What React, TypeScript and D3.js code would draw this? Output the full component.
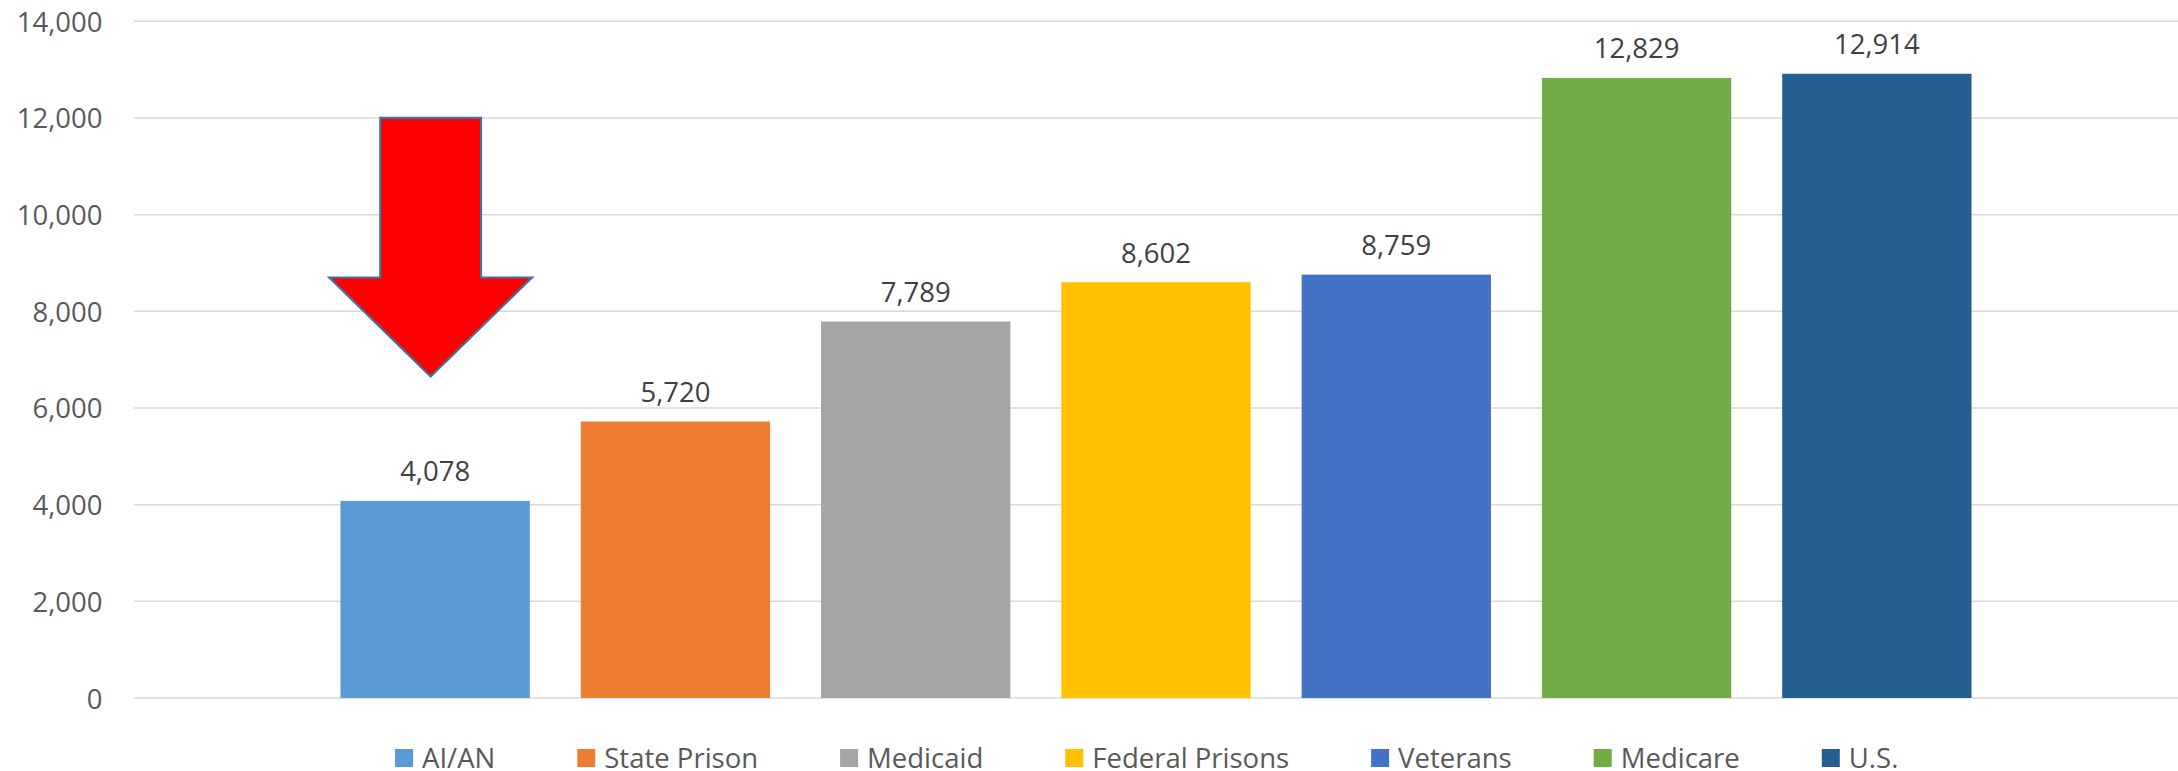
import React, { useEffect, useRef } from "react";
import * as d3 from "d3";

const categories = ["AI/AN", "State Prison", "Medicaid", "Federal Prisons", "Veterans", "Medicare", "U.S."];
const values = [4078, 5720, 7789, 8602, 8759, 12829, 12914];
const colors = ["#5B9BD5", "#ED7D31", "#A5A5A5", "#FFC000", "#4472C4", "#70AD47", "#255E91"];
const yTicks = [0, 2000, 4000, 6000, 8000, 10000, 12000, 14000];
// annotation arrow (data units) pointing at the AI/AN bar
const arrowTarget = "AI/AN";
const arrowTop = 12000;
const arrowHeadBase = 8700;
const arrowTip = 6650;

const W = 2178;
const H = 771;
const FONT = "'Open Sans', 'Noto Sans', sans-serif";

export default function App() {
  const ref = useRef<SVGSVGElement | null>(null);

  useEffect(() => {
    const svg = d3.select(ref.current);
    svg.selectAll("*").remove();

    const y = d3.scaleLinear().domain([0, 14000]).range([698, 21.3]);
    const x = d3
      .scaleBand<string>()
      .domain(categories)
      .range([315, 1997])
      .paddingInner(0.212)
      .paddingOuter(0.106);
    const gridLeft = 134;
    const gridRight = W;

    // gridlines
    svg
      .append("g")
      .selectAll("line")
      .data(yTicks)
      .join("line")
      .attr("x1", gridLeft)
      .attr("x2", gridRight)
      .attr("y1", (d) => y(d))
      .attr("y2", (d) => y(d))
      .attr("stroke", "#D9D9D9")
      .attr("stroke-width", 1.5);

    // y tick labels
    svg
      .append("g")
      .selectAll("text")
      .data(yTicks)
      .join("text")
      .attr("x", 102.5)
      .attr("y", (d) => y(d))
      .attr("text-anchor", "end")
      .attr("dominant-baseline", "central")
      .attr("font-family", FONT)
      .attr("font-size", 27.5)
      .attr("fill", "#595959")
      .text((d) => d3.format(",")(d));

    // bars
    svg
      .append("g")
      .selectAll("rect")
      .data(categories)
      .join("rect")
      .attr("x", (d) => x(d)!)
      .attr("width", x.bandwidth())
      .attr("y", (d, i) => y(values[i]))
      .attr("height", (d, i) => y(0) - y(values[i]))
      .attr("fill", (d, i) => colors[i]);

    // value labels
    svg
      .append("g")
      .selectAll("text")
      .data(categories)
      .join("text")
      .attr("x", (d) => x(d)! + x.bandwidth() / 2)
      .attr("y", (d, i) => y(values[i]) - 19.5)
      .attr("text-anchor", "middle")
      .attr("font-family", FONT)
      .attr("font-size", 27.5)
      .attr("fill", "#404040")
      .text((d, i) => d3.format(",")(values[i]));

    // arrow annotation
    const bw = x.bandwidth();
    const cx = x(arrowTarget)! + bw / 2 - 4.5;
    const sh = bw * 0.266;
    const hh = bw * 0.535;
    const pts: [number, number][] = [
      [cx - sh, y(arrowTop)],
      [cx + sh, y(arrowTop)],
      [cx + sh, y(arrowHeadBase)],
      [cx + hh, y(arrowHeadBase)],
      [cx, y(arrowTip)],
      [cx - hh, y(arrowHeadBase)],
      [cx - sh, y(arrowHeadBase)],
    ];
    svg
      .append("path")
      .attr("d", d3.line()(pts)! + "Z")
      .attr("fill", "#FF0000")
      .attr("stroke", "#41719C")
      .attr("stroke-width", 2.2)
      .attr("stroke-linejoin", "miter");

    // legend
    const lg = svg.append("g");
    const items = categories.map((c, i) => {
      const g = lg.append("g");
      g.append("rect").attr("width", 18).attr("height", 18).attr("y", 749).attr("fill", colors[i]);
      const t = g
        .append("text")
        .attr("x", 27)
        .attr("y", 757.5)
        .attr("dominant-baseline", "central")
        .attr("font-family", FONT)
        .attr("font-size", 27.5)
        .attr("fill", "#595959")
        .text(c);
      const w = (t.node() as SVGTextElement).getComputedTextLength();
      return { g, w: 27 + w };
    });
    const gap = 82;
    const total = d3.sum(items, (d) => d.w) + gap * (items.length - 1);
    let cur = 1146.7 - total / 2;
    items.forEach((it) => {
      it.g.attr("transform", `translate(${cur},0)`);
      cur += it.w + gap;
    });
  }, []);

  return (
    <svg
      ref={ref}
      width={W}
      height={H}
      style={{ position: "absolute", left: 0, top: 0, display: "block", background: "#fff" }}
    />
  );
}
